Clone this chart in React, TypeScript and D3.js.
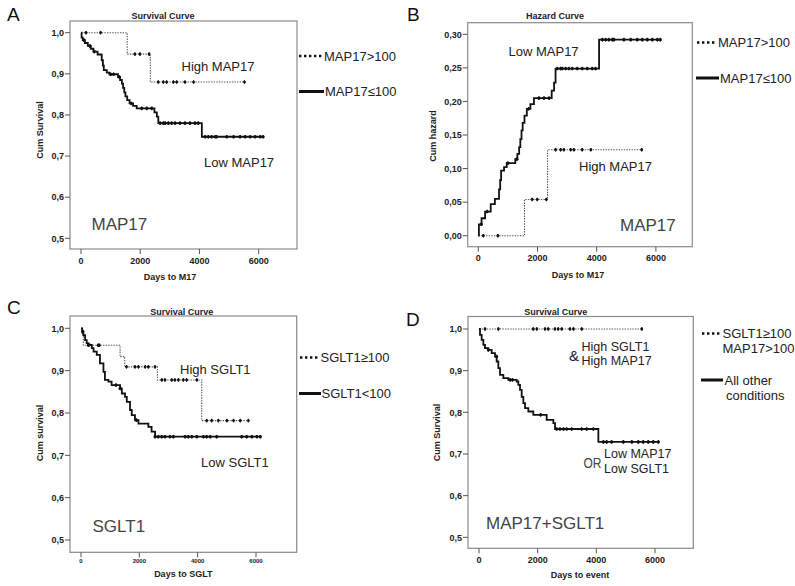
import React from 'react';
import * as d3 from 'd3';

// ---------- axis ticks ----------
const survTicks = [0.5, 0.6, 0.7, 0.8, 0.9, 1.0];
const hazTicks = [0, 0.05, 0.1, 0.15, 0.2, 0.25, 0.3];
const dayTicks = [0, 2000, 4000, 6000];

// ---------- Panel A: survival by MAP17 ----------
const aHighSteps: [number, number][] = [[1560, 0.948], [2340, 0.88]];
const aHighEnd = 5520;
const aHighCens = [170, 660, 1820, 1990, 2300, 2610, 2780, 2890, 3120, 3230, 3510, 3800, 5520];
const aLowSteps: [number, number][] = [
  [20, 0.988], [60, 0.982], [130, 0.975], [230, 0.968], [330, 0.961], [420, 0.954], [560, 0.947],
  [700, 0.933], [740, 0.92], [770, 0.909], [870, 0.903], [960, 0.899], [1250, 0.892], [1320, 0.885],
  [1380, 0.876], [1420, 0.866], [1460, 0.855], [1500, 0.845], [1560, 0.836], [1640, 0.828],
  [1760, 0.822], [1880, 0.816], [2480, 0.806], [2560, 0.796], [2610, 0.78], [4080, 0.747]];
const aLowEnd = 6150;
const aLowCens = [100, 300, 450, 1000, 1100, 1300, 1700, 2050, 2220, 2390, 2670, 2780, 2840, 2950, 3060,
  3175, 3340, 3510, 3680, 3850, 3960, 4190, 4300, 4410, 4530, 4580, 4920, 5150, 5370, 5540, 5710, 5880, 6050, 6150];

// ---------- Panel B: cumulative hazard by MAP17 ----------
const bHighSteps: [number, number][] = [[1560, 0.054], [2340, 0.128]];
const bHighEnd = 5520;
const bHighCens = [170, 660, 1820, 1990, 2300, 2610, 2780, 2890, 3120, 3230, 3510, 3800, 5520];
const bLowSteps: [number, number][] = [
  [20, 0.017], [110, 0.026], [230, 0.036], [420, 0.047], [560, 0.055], [700, 0.069], [740, 0.083],
  [770, 0.097], [870, 0.102], [960, 0.108], [1250, 0.114], [1320, 0.122], [1380, 0.132], [1420, 0.144],
  [1460, 0.157], [1500, 0.168], [1560, 0.179], [1640, 0.189], [1760, 0.196], [1880, 0.205],
  [2480, 0.216], [2560, 0.228], [2610, 0.249], [4080, 0.292]];
const bLowEnd = 6150;
const bLowCens = [100, 300, 1000, 1300, 1700, 2050, 2220, 2390, 2670, 2780, 2840, 2950, 3060,
  3175, 3340, 3510, 3680, 3850, 3960, 4190, 4300, 4410, 4530, 4580, 4920, 5150, 5370, 5540, 5710, 5880, 6050, 6150];

// ---------- Panel C: survival by SGLT1 ----------
const cHighSteps: [number, number][] = [[40, 0.985], [80, 0.96], [1340, 0.933], [1500, 0.909], [2620, 0.878], [4140, 0.782]];
const cHighEnd = 5740;
const cHighCens = [250, 590, 630, 1560, 1850, 1970, 2200, 2310, 2540, 2770, 2880, 3110, 3220, 3340, 3510, 3620, 3970,
  4310, 4480, 4710, 5000, 5230, 5460, 5740];
const cLowSteps: [number, number][] = [
  [40, 0.992], [80, 0.984], [140, 0.972], [195, 0.965], [250, 0.961], [370, 0.953], [430, 0.945], [540, 0.937],
  [650, 0.917], [770, 0.897], [820, 0.878], [940, 0.874], [1050, 0.866], [1340, 0.858], [1400, 0.846],
  [1510, 0.838], [1570, 0.826], [1680, 0.807], [1740, 0.795], [1850, 0.783], [1970, 0.775], [2310, 0.767],
  [2420, 0.756], [2540, 0.744]];
const cLowEnd = 6150;
const cLowCens = [60, 280, 1200, 1340, 1900, 2540, 2650, 2770, 2880, 3050, 3170, 3570, 3680, 3800, 3970, 4200, 4310,
  4430, 4650, 5510, 5680, 5860, 6030, 6150];

// ---------- Panel D: survival MAP17+SGLT1 ----------
const dHighSteps: [number, number][] = [];
const dHighEnd = 5550;
const dHighCens = [205, 660, 1850, 1970, 2250, 2360, 2590, 2700, 2820, 3100, 3220, 3500, 5550];
const dLowSteps: [number, number][] = [
  [34, 0.986], [91, 0.974], [148, 0.962], [205, 0.954], [318, 0.95], [432, 0.942], [546, 0.934], [602, 0.922],
  [659, 0.906], [716, 0.89], [830, 0.882], [1000, 0.878], [1284, 0.874], [1341, 0.866], [1398, 0.854],
  [1455, 0.837], [1512, 0.822], [1569, 0.81], [1682, 0.802], [1852, 0.794], [2307, 0.782], [2535, 0.774],
  [2592, 0.76], [4069, 0.729]];
const dLowEnd = 6115;
const dLowCens = [320, 600, 1060, 1140, 2100, 2650, 2760, 2880, 2990, 3160, 3500, 3670, 3900, 4240, 4350, 4520,
  4920, 5210, 5430, 5600, 5770, 5940, 6115];

type Step = [number, number];
interface Curve { start: number; steps: Step[]; end: number; cens: number[]; dotted: boolean }
interface Txt { text: string; x: number; y: number; size: number; color?: string; w?: number }
interface LegendItem { dotted: boolean; y: number; x1: number; x2: number; lines: { text: string; x: number; y: number }[] }
interface PanelCfg {
  letter: string; lx: number; ly: number;
  title: string; tx: number; ty: number;
  box: { l: number; r: number; t: number; b: number };
  xr: [number, number];
  yDomain: [number, number]; yr: [number, number];
  yTicks: number[]; yFmt: string; tickSize: number;
  yTitle: string; ytx: number; yty: number;
  xTitle: string; xtx: number; xty: number;
  curves: Curve[];
  notes: Txt[];
  legend: LegendItem[];
}

const panels: PanelCfg[] = [
  {
    letter: 'A', lx: 7, ly: 21, title: 'Survival Curve', tx: 163, ty: 18.5,
    box: { l: 70, r: 297, t: 21, b: 249 }, xr: [81, 258.7], yDomain: [0.5, 1.0], yr: [238.3, 32.7],
    yTicks: survTicks, yFmt: '.1f', tickSize: 9,
    yTitle: 'Cum Survival', ytx: 43, yty: 130, xTitle: 'Days to M17', xtx: 170, xty: 280,
    curves: [
      { start: 1, steps: aHighSteps, end: aHighEnd, cens: aHighCens, dotted: true },
      { start: 1, steps: aLowSteps, end: aLowEnd, cens: aLowCens, dotted: false },
    ],
    notes: [
      { text: 'High MAP17', x: 181.5, y: 71, size: 13 },
      { text: 'Low MAP17', x: 204, y: 166.5, size: 13 },
      { text: 'MAP17', x: 91.5, y: 229.5, size: 17, color: '#444' },
    ],
    legend: [
      { dotted: true, y: 56, x1: 299, x2: 323, lines: [{ text: 'MAP17>100', x: 324, y: 60.5 }] },
      { dotted: false, y: 91.5, x1: 299, x2: 324, lines: [{ text: 'MAP17≤100', x: 325, y: 96 }] },
    ],
  },
  {
    letter: 'B', lx: 407, ly: 21, title: 'Hazard Curve', tx: 555, ty: 18.5,
    box: { l: 467.7, r: 692.3, t: 22.7, b: 246.7 }, xr: [478.3, 655.9], yDomain: [0, 0.3], yr: [235.7, 34.3],
    yTicks: hazTicks, yFmt: '.2f', tickSize: 9,
    yTitle: 'Cum hazard', ytx: 436, yty: 136, xTitle: 'Days to M17', xtx: 578, xty: 278,
    curves: [
      { start: 0, steps: bHighSteps, end: bHighEnd, cens: bHighCens, dotted: true },
      { start: 0, steps: bLowSteps, end: bLowEnd, cens: bLowCens, dotted: false },
    ],
    notes: [
      { text: 'Low MAP17', x: 508.5, y: 55.5, size: 13 },
      { text: 'High MAP17', x: 579, y: 171, size: 13 },
      { text: 'MAP17', x: 620, y: 230.5, size: 17, color: '#444' },
    ],
    legend: [
      { dotted: true, y: 42.5, x1: 697, x2: 717, lines: [{ text: 'MAP17>100', x: 718, y: 47 }] },
      { dotted: false, y: 78, x1: 696, x2: 719, lines: [{ text: 'MAP17≤100', x: 720, y: 82.5 }] },
    ],
  },
  {
    letter: 'C', lx: 7, ly: 314, title: 'Survival Curve', tx: 181.7, ty: 314.5,
    box: { l: 70, r: 296.7, t: 316, b: 552.3 }, xr: [81, 256], yDomain: [0.5, 1.0], yr: [540, 328.3],
    yTicks: survTicks, yFmt: '.1f', tickSize: 6,
    yTitle: 'Cum survival', ytx: 43, yty: 433, xTitle: 'Days to SGLT', xtx: 183.3, xty: 577,
    curves: [
      { start: 1, steps: cHighSteps, end: cHighEnd, cens: cHighCens, dotted: true },
      { start: 1, steps: cLowSteps, end: cLowEnd, cens: cLowCens, dotted: false },
    ],
    notes: [
      { text: 'High SGLT1', x: 180, y: 373.5, size: 13 },
      { text: 'Low SGLT1', x: 201, y: 466.5, size: 13 },
      { text: 'SGLT1', x: 92.5, y: 531.5, size: 17, color: '#444' },
    ],
    legend: [
      { dotted: true, y: 357.5, x1: 300, x2: 320, lines: [{ text: 'SGLT1≥100', x: 320.5, y: 362 }] },
      { dotted: false, y: 393.5, x1: 299, x2: 321, lines: [{ text: 'SGLT1<100', x: 321.5, y: 398 }] },
    ],
  },
  {
    letter: 'D', lx: 406, ly: 326, title: 'Survival Curve', tx: 555.8, ty: 315,
    box: { l: 468, r: 693.3, t: 316.5, b: 548.3 }, xr: [479, 655], yDomain: [0.5, 1.0], yr: [537.3, 329],
    yTicks: survTicks, yFmt: '.1f', tickSize: 9,
    yTitle: 'Cum Survival', ytx: 440, yty: 432.5, xTitle: 'Days to event', xtx: 580, xty: 578,
    curves: [
      { start: 1, steps: dHighSteps, end: dHighEnd, cens: dHighCens, dotted: true },
      { start: 1, steps: dLowSteps, end: dLowEnd, cens: dLowCens, dotted: false },
    ],
    notes: [
      { text: 'High SGLT1', x: 581.5, y: 350.5, size: 12.5 },
      { text: 'High MAP17', x: 581.5, y: 364.5, size: 12.5 },
      { text: '&', x: 569, y: 361, size: 15 },
      { text: 'Low MAP17', x: 604, y: 458, size: 12.5 },
      { text: 'Low SGLT1', x: 604, y: 473, size: 12.5 },
      { text: 'OR', x: 583.5, y: 467.5, size: 15, color: '#444', w: 18 },
      { text: 'MAP17+SGLT1', x: 486, y: 528.5, size: 17, color: '#444' },
    ],
    legend: [
      { dotted: true, y: 333.5, x1: 702, x2: 722, lines: [{ text: 'SGLT1≥100', x: 722.5, y: 338 }, { text: 'MAP17>100', x: 722.5, y: 353 }] },
      { dotted: false, y: 380, x1: 701, x2: 723, lines: [{ text: 'All other', x: 724.5, y: 384.5 }, { text: 'conditions', x: 726, y: 400 }] },
    ],
  },
];

const FONT = '"Liberation Sans", Arial, sans-serif';

function valueAt(c: Curve, t: number): number {
  let v = c.start;
  for (const s of c.steps) { if (s[0] <= t) v = s[1]; }
  return v;
}

function Panel({ p }: { p: PanelCfg }) {
  const x = d3.scaleLinear().domain([0, 6000]).range(p.xr);
  const y = d3.scaleLinear().domain(p.yDomain).range(p.yr);
  const line = d3.line<[number, number]>().x(d => x(d[0])).y(d => y(d[1])).curve(d3.curveStepAfter);
  const fmt = d3.format(p.yFmt);
  const { box } = p;
  return (
    <g>
      <text x={p.lx} y={p.ly} fontSize={19} fontFamily={FONT} fill="#111">{p.letter}</text>
      <text x={p.tx} y={p.ty} fontSize={9} fontWeight="bold" textAnchor="middle" fontFamily={FONT} fill="#222">{p.title}</text>
      <rect x={box.l} y={box.t} width={box.r - box.l} height={box.b - box.t} fill="white" stroke="#8a8a8a" strokeWidth={1.2} />
      {p.yTicks.map(v => (
        <g key={'y' + v}>
          <line x1={box.l - 5} x2={box.l} y1={y(v)} y2={y(v)} stroke="#555" strokeWidth={1} />
          <text x={box.l - 6} y={y(v) + 3.2} fontSize={9} fontWeight="bold" textAnchor="end" fontFamily={FONT} fill="#222">
            {fmt(v).replace('.', ',')}
          </text>
        </g>
      ))}
      {dayTicks.map(v => (
        <g key={'x' + v}>
          <line x1={x(v)} x2={x(v)} y1={box.b} y2={box.b + 5} stroke="#555" strokeWidth={1} />
          <text x={x(v)} y={box.b + (p.tickSize < 8 ? 10.5 : 14.5)} fontSize={p.tickSize} fontWeight="bold" textAnchor="middle" fontFamily={FONT} fill="#222">
            {v}
          </text>
        </g>
      ))}
      <text transform={`translate(${p.ytx},${p.yty}) rotate(-90)`} fontSize={9} fontWeight="bold" textAnchor="middle" fontFamily={FONT} fill="#222">{p.yTitle}</text>
      <text x={p.xtx} y={p.xty} fontSize={9} fontWeight="bold" textAnchor="middle" fontFamily={FONT} fill="#222">{p.xTitle}</text>
      {p.curves.map((c, i) => {
        const pts: [number, number][] = [[0, c.start], ...c.steps, [c.end, c.steps.length ? c.steps[c.steps.length - 1][1] : c.start]];
        return (
          <g key={i}>
            <path d={line(pts) || ''} fill="none" stroke={c.dotted ? '#555' : '#111'}
              strokeWidth={c.dotted ? 1.1 : 1.8} strokeDasharray={c.dotted ? '1.4,1.2' : undefined} />
            {c.cens.map((t, j) => (
              <g key={j}>
                <line x1={x(t)} x2={x(t)} y1={y(valueAt(c, t)) - 1.8} y2={y(valueAt(c, t)) + 1.8} stroke="#111" strokeWidth={1.2} />
                <circle cx={x(t)} cy={y(valueAt(c, t))} r={c.dotted ? 1.4 : 1.6} fill="#111" />
              </g>
            ))}
          </g>
        );
      })}
      {p.notes.map((n, i) => (
        <text key={i} x={n.x} y={n.y} fontSize={n.size} fontFamily={FONT} fill={n.color || '#222'}
          textLength={n.w} lengthAdjust={n.w ? 'spacingAndGlyphs' : undefined}>{n.text}</text>
      ))}
      {p.legend.map((l, i) => (
        <g key={i}>
          <line x1={l.x1} x2={l.x2} y1={l.y} y2={l.y} stroke="#111" strokeWidth={l.dotted ? 2.4 : 3}
            strokeDasharray={l.dotted ? '2.4,2.6' : undefined} />
          {l.lines.map((t, k) => (
            <text key={k} x={t.x} y={t.y} fontSize={13} fontFamily={FONT} fill="#222">{t.text}</text>
          ))}
        </g>
      ))}
    </g>
  );
}

export default function App() {
  return (
    <svg width={795} height={586} style={{ position: 'absolute', left: 0, top: 0, background: 'white' }}>
      <rect x={0} y={0} width={795} height={586} fill="white" />
      {panels.map(p => <Panel key={p.letter} p={p} />)}
    </svg>
  );
}
